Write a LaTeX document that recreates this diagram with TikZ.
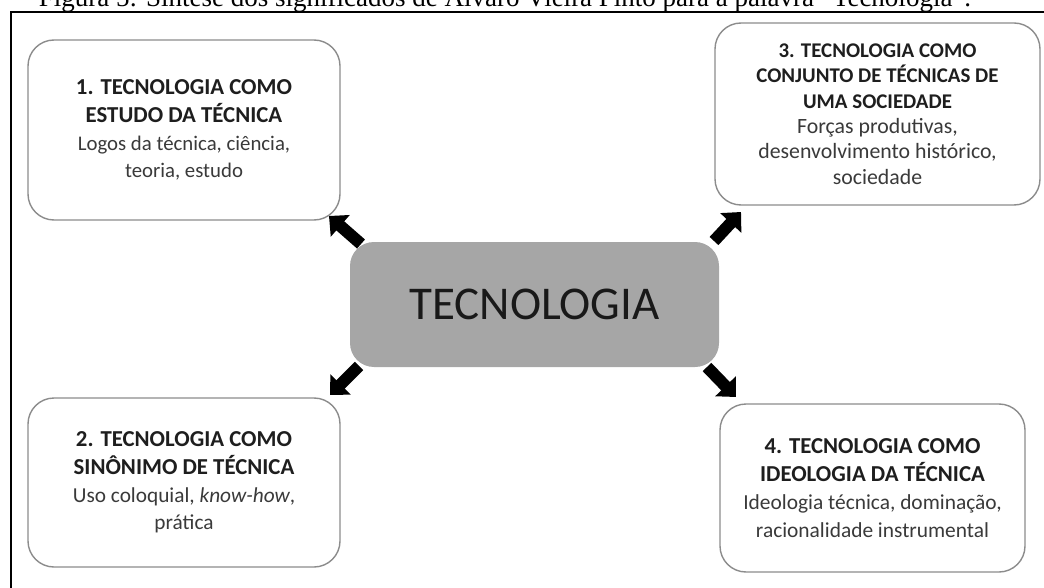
\documentclass[tikz,border=0pt]{standalone}
\usepackage{fontspec}
\setmainfont{Carlito}
\newfontfamily\capfont{Liberation Serif}
\usetikzlibrary{arrows.meta}
\definecolor{boxline}{HTML}{8C8C8C}
\definecolor{titlecol}{HTML}{1E1E1E}
\definecolor{bodycol}{HTML}{3A3A3A}
\definecolor{centerfill}{HTML}{A6A6A6}
\tikzset{
  sidebox/.style={draw=boxline, line width=1.4pt, rounded corners=26pt, fill=white,
    inner sep=0pt, align=center, text=titlecol},
  bigfont/.style={font=\fontsize{22.8}{27.8}\selectfont},
  smallfont/.style={font=\fontsize{20.9}{25.4}\selectfont},
  centerbox/.style={fill=centerfill, rounded corners=24pt, inner sep=0pt,
    font=\fontsize{47}{56}\selectfont, text=black!90},
  blockarrow/.style={line width=12pt, black, -{Triangle[length=15pt,width=28pt]}},
  frameline/.style={line width=2pt, black}
}
\newcommand{\ttl}[1]{\textbf{#1}}
\newcommand{\bdy}[2]{{\fontsize{#1}{27}\selectfont\color{bodycol}#2}}
\begin{document}
\begin{tikzpicture}[x=1pt,y=-1pt]
\useasboundingbox (0,0) rectangle (1044,588);
% frame
\coordinate (fr1) at (11,12);
\coordinate (fr2) at (1060,12);
\coordinate (fr3) at (11,600);
\draw[frameline] (fr2) -- (fr1) -- (fr3);
% caption
\node[font=\capfont\fontsize{27}{30}\selectfont, anchor=base] (cap) at (505,7)
  {Figura 5: Síntese dos significados de Álvaro Vieira Pinto para a palavra “Tecnologia”.};
% center
\node[centerbox, minimum width=369pt, minimum height=125pt] (c) at (534.5,304.5) {TECNOLOGIA};
% boxes
\node[sidebox, bigfont, minimum width=312pt, minimum height=180pt] (b1) at (184,130)
  {\ttl{1. TECNOLOGIA COMO}\\ \ttl{ESTUDO DA TÉCNICA}\\ \bdy{20.8}{Logos da técnica, ciência,}\\ \bdy{20.8}{teoria, estudo}};
\node[sidebox, smallfont, minimum width=325pt, minimum height=182pt] (b3) at (877.5,114)
  {\ttl{3. TECNOLOGIA COMO}\\ \ttl{CONJUNTO DE TÉCNICAS DE}\\ \ttl{UMA SOCIEDADE}\\ \bdy{21.8}{Forças produtivas,}\\ \bdy{21.8}{desenvolvimento histórico,}\\ \bdy{21.8}{sociedade}};
\node[sidebox, bigfont, minimum width=312pt, minimum height=169pt] (b2) at (184,482.5)
  {\ttl{2. TECNOLOGIA COMO}\\ \ttl{SINÔNIMO DE TÉCNICA}\\ \bdy{21.3}{Uso coloquial, \textit{know-how},}\\ \bdy{21.3}{prática}};
\node[sidebox, bigfont, minimum width=305pt, minimum height=168pt] (b4) at (872.5,488)
  {\ttl{4. TECNOLOGIA COMO}\\ \ttl{IDEOLOGIA DA TÉCNICA}\\ \bdy{21.4}{Ideologia técnica, dominação,}\\ \bdy{21.4}{racionalidade instrumental}};
% arrow ends
\coordinate (a1s) at (361,244);
\coordinate (a1e) at (329,216);
\coordinate (a3s) at (714,241);
\coordinate (a3e) at (741,212);
\coordinate (a2s) at (359,366);
\coordinate (a2e) at (330,395);
\coordinate (a4s) at (707,367);
\coordinate (a4e) at (736,397);
\draw[blockarrow] (a1s) -- (a1e);
\draw[blockarrow] (a3s) -- (a3e);
\draw[blockarrow] (a2s) -- (a2e);
\draw[blockarrow] (a4s) -- (a4e);
\end{tikzpicture}
\end{document}
